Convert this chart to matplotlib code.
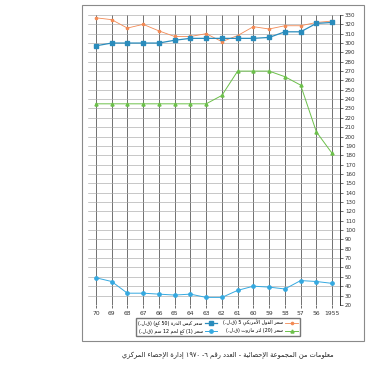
import re
import matplotlib.pyplot as plt
from matplotlib.patches import Rectangle

# x categories (years, read right-to-left on the original sheet)
years = ['70', '69', '68', '67', '66', '65', '64', '63', '62', '61',
         '60', '59', '58', '57', '56', '1955']

# prices
beans = [327, 325, 316, 320, 313, 307, 307, 310, 301.5, 308, 317.5, 315, 318.5, 318.5, 322, 323.5]
corn = [297, 300, 300, 300, 300, 303, 305, 305, 305, 305, 305, 306, 312, 312, 321, 322]
fuel = [235, 235, 235, 235, 235, 235, 235, 235, 244, 270, 270, 270, 264, 255, 205, 182]
meat = [49, 45, 32.5, 32.5, 31.5, 30.5, 31.5, 28, 28, 35.5, 40, 39, 37, 46, 45, 43]

lbl_beans = 'سعر الفول الأمريكي 5 (ق.ل.)'
lbl_corn = 'سعر كيس الذرة (50 كغ) (ق.ل.)'
lbl_fuel = 'سعر (20) لتر مازوت (ق.ل.)'
lbl_meat = 'سعر (1) كغ لحم 12 سم (ق.ل.)'
caption = 'معلومات من المجموعة الإحصائية - العدد رقم ٦- ١٩٧٠ إدارة الإحصاء المركزي'

# matplotlib has no arabic shaping, so map letters to presentation forms
# (base codepoint, kind) kind 1 = joins right only, 2 = joins both sides
FORMS = {'ء': (0xFE80, 0), 'آ': (0xFE81, 1), 'أ': (0xFE83, 1), 'ؤ': (0xFE85, 1),
         'إ': (0xFE87, 1), 'ئ': (0xFE89, 2), 'ا': (0xFE8D, 1), 'ب': (0xFE8F, 2),
         'ة': (0xFE93, 1), 'ت': (0xFE95, 2), 'ث': (0xFE99, 2), 'ج': (0xFE9D, 2),
         'ح': (0xFEA1, 2), 'خ': (0xFEA5, 2), 'د': (0xFEA9, 1), 'ذ': (0xFEAB, 1),
         'ر': (0xFEAD, 1), 'ز': (0xFEAF, 1), 'س': (0xFEB1, 2), 'ش': (0xFEB5, 2),
         'ص': (0xFEB9, 2), 'ض': (0xFEBD, 2), 'ط': (0xFEC1, 2), 'ظ': (0xFEC5, 2),
         'ع': (0xFEC9, 2), 'غ': (0xFECD, 2), 'ف': (0xFED1, 2), 'ق': (0xFED5, 2),
         'ك': (0xFED9, 2), 'ل': (0xFEDD, 2), 'م': (0xFEE1, 2), 'ن': (0xFEE5, 2),
         'ه': (0xFEE9, 2), 'و': (0xFEED, 1), 'ى': (0xFEEF, 1), 'ي': (0xFEF1, 2)}
LAM_ALEF = {'ا': 0xFEFB, 'أ': 0xFEF7, 'إ': 0xFEF9, 'آ': 0xFEF5}


def ar(text):
    units = []
    i = 0
    while i < len(text):
        c = text[i]
        if c == 'ل' and i + 1 < len(text) and text[i + 1] in LAM_ALEF:
            units.append((LAM_ALEF[text[i + 1]], 1))
            i += 2
            continue
        if c in FORMS:
            units.append(FORMS[c])
        else:
            units.append((c, None))
        i += 1
    out = ''
    for k, (base, kind) in enumerate(units):
        if kind is None:
            out += base
            continue
        prev = units[k - 1] if k > 0 else (None, None)
        nxt = units[k + 1] if k + 1 < len(units) else (None, None)
        jp = kind >= 1 and prev[1] == 2
        jn = kind == 2 and nxt[1] is not None and nxt[1] >= 1
        if jp and jn:
            cp = base + 3
        elif jn:
            cp = base + 2
        elif jp:
            cp = base + 1
        else:
            cp = base
        out += chr(cp)
    # visual order: reverse, keep numbers left to right, mirror brackets
    out = out[::-1]
    out = re.sub(r'[0-9\u0660-\u0669]+', lambda m: m.group()[::-1], out)
    return out.translate(str.maketrans('()', ')('))


plt.rcParams['font.family'] = ['DejaVu Sans']

fig = plt.figure(figsize=(3.72, 3.70), dpi=100)
fig.patches.append(Rectangle((0.221, 0.079), 0.757, 0.908, transform=fig.transFigure,
                             fill=False, edgecolor='#8a8a8a', linewidth=0.8))

ax = fig.add_axes([0.2366, 0.176, 0.6774, 0.7835])
x = range(len(years))

l_beans, = ax.plot(x, beans, color='#f28a55', lw=0.6, marker='o', ms=1.6, label=ar(lbl_beans))
l_corn, = ax.plot(x, corn, color='#2a8cbc', lw=0.9, marker='s', ms=2.4, label=ar(lbl_corn))
l_fuel, = ax.plot(x, fuel, color='#6cc04a', lw=0.7, marker='^', ms=2.2, label=ar(lbl_fuel))
l_meat, = ax.plot(x, meat, color='#35a9e0', lw=0.7, marker='o', ms=2.4, label=ar(lbl_meat))

ax.set_xlim(-0.5, len(years) - 0.5)
ax.set_ylim(20, 330)
ax.set_xticks(list(x))
ax.set_xticklabels(years, fontsize=4.3, color='#333333')
ax.set_yticks(range(20, 331, 10))
ax.yaxis.tick_right()
ax.tick_params(axis='y', labelsize=4, length=2, width=0.5, pad=1.5, colors='#333333')
ax.tick_params(axis='x', length=2, width=0.5, pad=2.5, colors='#333333')

ax.grid(axis='x', color='#5a5a5a', linewidth=0.6)
ax.grid(axis='y', color='#a8a8a8', linewidth=0.45)
ax.set_axisbelow(True)
for s in ['left', 'top', 'bottom']:
    ax.spines[s].set_visible(False)
ax.spines['right'].set_color('#333333')
ax.spines['right'].set_linewidth(0.7)

fig.legend(handles=[l_corn, l_meat, l_beans, l_fuel], ncol=2, markerfirst=False,
           loc='center', bbox_to_anchor=(0.586, 0.116), fontsize=3.4,
           fancybox=False, edgecolor='#777777', framealpha=1, handlelength=2.6,
           columnspacing=1.2, borderpad=0.4, labelspacing=0.4, handletextpad=0.5)

fig.text(0.613, 0.04, ar(caption), ha='center', va='center', fontsize=4.8, color='#222222')

fig.savefig('out.png', dpi=100)
